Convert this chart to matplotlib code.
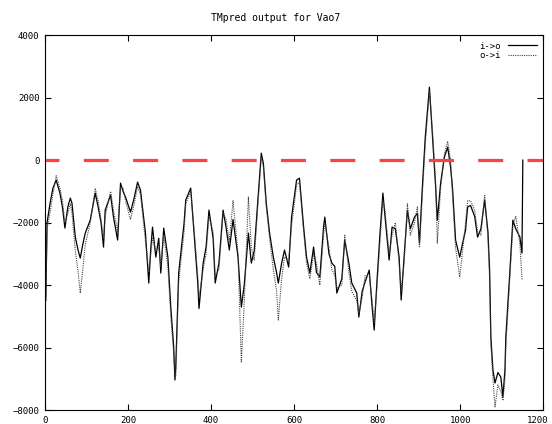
import matplotlib
matplotlib.use("Agg")
import matplotlib.pyplot as plt
import matplotlib.transforms as mtransforms

# позиции остатков и значения двух кривых TMpred
residues = [0, 2, 5, 12, 19, 27, 36, 42, 48, 55, 61, 65, 73, 80, 85, 91, 97, 109,
            121, 128, 135, 141, 145, 158, 165, 175, 182, 188, 194, 206, 215, 223,
            230, 242, 250, 255, 259, 267, 274, 279, 286, 296, 303, 310, 313, 315,
            322, 335, 339, 351, 359, 368, 371, 381, 388, 395, 405, 410, 419, 429,
            436, 444, 453, 465, 473, 480, 490, 497, 504, 514, 521, 526, 533, 541,
            550, 558, 562, 570, 577, 587, 594, 606, 613, 623, 630, 638, 647, 654,
            662, 671, 674, 684, 691, 698, 703, 715, 722, 732, 739, 751, 756, 764,
            771, 781, 788, 793, 800, 807, 814, 819, 829, 836, 844, 853, 858, 865,
            873, 880, 890, 897, 902, 909, 916, 926, 933, 941, 945, 953, 962, 970,
            977, 982, 989, 999, 1006, 1013, 1018, 1025, 1035, 1042, 1050, 1059,
            1067, 1071, 1074, 1079, 1084, 1091, 1098, 1103, 1108, 1110, 1120,
            1127, 1134, 1144, 1149]

i_to_o = [0, -4500, -2000, -1400, -900, -640, -1056, -1500, -2176, -1500, -1216,
          -1380, -2464, -2900, -3136, -2700, -2336, -1920, -1056, -1500, -2000,
          -2784, -1600, -1120, -1824, -2560, -736, -1000, -1184, -1664, -1200,
          -704, -960, -2336, -3936, -2800, -2144, -3104, -2500, -3616, -2176,
          -3104, -4700, -5984, -7040, -6624, -3616, -2016, -1280, -896, -2336,
          -3936, -4750, -3296, -2784, -1600, -2500, -3936, -3300, -1600, -2144,
          -2880, -1900, -3104, -4704, -4000, -2336, -3296, -2900, -1056, 224,
          -100, -1376, -2336, -3104, -3616, -3936, -3300, -2880, -3424, -1824,
          -640, -576, -2144, -3104, -3616, -2784, -3600, -3744, -2144, -1824,
          -3000, -3296, -3400, -4256, -3800, -2560, -3300, -3936, -4256, -5024,
          -4200, -3900, -3520, -4704, -5440, -3800, -2336, -1056, -1800, -3200,
          -2144, -2200, -3104, -4480, -3100, -1600, -2200, -1824, -1700, -2656,
          -864, 736, 2336, 864, -864, -1920, -736, 96, 416, -224, -960, -2560,
          -3104, -2656, -2240, -1504, -1450, -1800, -2464, -2200, -1280, -2300,
          -3520, -5664, -6720, -7136, -6800, -6944, -7584, -6700, -5664, -3520,
          -1920, -2200, -2464, -2976]

o_to_i = [0, -4300, -2200, -1700, -1100, -500, -900, -1300, -2000, -1700, -1400,
          -1700, -2900, -3600, -4256, -3500, -2700, -2000, -900, -1300, -1900,
          -2500, -1800, -1000, -1600, -2300, -850, -900, -1300, -1900, -1400,
          -850, -1100, -2600, -3600, -3000, -2500, -2900, -2800, -3400, -2400,
          -3400, -5000, -6200, -6800, -6900, -3900, -2300, -1400, -1000, -2200,
          -3700, -4400, -3500, -3000, -1800, -2300, -3700, -3500, -1700, -1900,
          -2600, -1300, -3000, -6464, -4500, -1184, -2800, -3200, -1200, 100,
          -200, -1500, -2500, -3500, -4200, -5120, -3800, -3100, -3200, -2100,
          -800, -700, -2300, -3300, -3800, -3000, -3300, -4000, -2400, -2000,
          -2800, -3500, -3700, -4100, -4000, -2400, -3600, -4200, -4500, -4900,
          -4400, -3700, -3700, -4500, -5200, -4000, -2600, -1300, -1600, -3000,
          -2400, -2000, -3300, -4200, -3300, -1400, -2400, -2000, -1500, -2800,
          -1100, 500, 2200, 1000, -700, -2656, -900, 200, 600, 0, -1200, -2800,
          -3744, -2900, -2000, -1300, -1300, -1600, -2300, -2400, -1100, -2500,
          -3800, -5900, -7000, -7900, -7200, -7400, -7700, -7000, -6000, -3700,
          -2100, -1800, -2700, -3840]

seq_end = 1151

fig = plt.figure(figsize=(5.52, 4.24), dpi=100)
ax = fig.add_axes([0.0815, 0.033, 0.9025, 0.884])

font = "DejaVu Sans Mono"

# сплошная кривая i->o, в конце вертикальный скачок к нулю
ax.plot(residues + [seq_end], i_to_o + [0], color="black", lw=0.9, label="i->o")
ax.plot(residues, o_to_i, color="#444444", lw=0.8, linestyle=(0, (1, 1)), label="o->i")

# красная пунктирная линия нуля
lw_red = 2.3
px = lw_red * 100 / 72
ax.plot([0, 1200], [0, 0], color="#ff4040", lw=lw_red,
        linestyle=(11 / px, (25 / px, 24.3 / px)), solid_capstyle="butt")

ax.set_xlim(0, 1200)
ax.set_ylim(-8000, 4000)
ax.set_xticks(range(0, 1201, 200))
ax.set_yticks(range(-8000, 4001, 2000))
ax.tick_params(direction="in", length=4, width=0.8, top=True, right=True,
               labelsize=6.5, pad=4)
for lab in ax.get_xticklabels() + ax.get_yticklabels():
    lab.set_fontfamily(font)
for s in ax.spines.values():
    s.set_linewidth(0.8)

# последняя подпись оси x чуть левее, чтобы не обрезалась
last = ax.get_xticklabels()[-1]
last.set_transform(last.get_transform() +
                   mtransforms.ScaledTranslation(-6 / 100, 0, fig.dpi_scale_trans))

fig.text(0.5, 0.958, "TMpred output for Vao7", ha="center", va="center",
         fontsize=7, family=font)

leg = ax.legend(loc="upper right", frameon=False, markerfirst=False,
                handlelength=3.2, labelspacing=0.05, borderaxespad=0.3,
                prop={"family": font, "size": 6.5})

fig.savefig("out.png", dpi=100)
